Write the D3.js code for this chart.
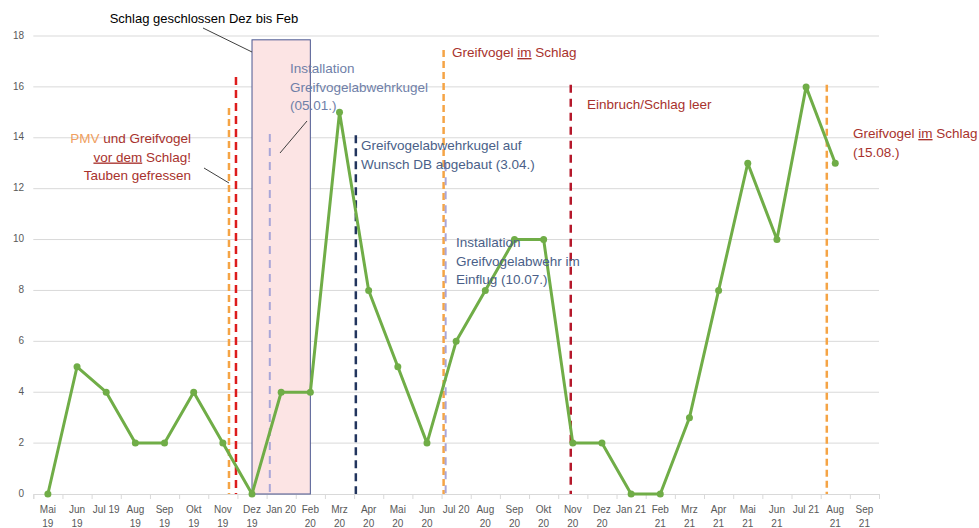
<!DOCTYPE html>
<html>
<head>
<meta charset="utf-8">
<script src="https://cdn.jsdelivr.net/npm/d3@7"></script>
<style>
  body { margin: 0; background: #fff; }
  svg { display: block; font-family: "Liberation Sans", Arial, sans-serif; }
  .grid line { stroke: #d9d9d9; stroke-width: 1; }
  .note { font-size: 13.5px; }
  .red { fill: #a8322d; }
  .orange { fill: #f0a060; }
  .blue1 { fill: #6f7fa8; }
  .blue2 { fill: #4a5f88; }
</style>
</head>
<body>
<script>
// Months on the x axis
let months = ["Mai 19","Jun 19","Jul 19","Aug 19","Sep 19","Okt 19","Nov 19","Dez 19",
  "Jan 20","Feb 20","Mrz 20","Apr 20","Mai 20","Jun 20","Jul 20","Aug 20","Sep 20","Okt 20",
  "Nov 20","Dez 20","Jan 21","Feb 21","Mrz 21","Apr 21","Mai 21","Jun 21","Jul 21","Aug 21","Sep 21"];
// labels Excel kept on one line
let oneLine = ["Jul 19","Jan 20","Jul 20","Jan 21","Jul 21"];

// counts per month (Sep 21 has no value)
let values = [0,5,4,2,2,4,2,0,4,4,15,8,5,2,6,8,10,10,2,2,0,0,3,8,13,10,16,13,null];

let yTicks = [0,2,4,6,8,10,12,14,16,18];

// event markers: position in months from start of Mai 19, top of the line (y value)
let eventAt  = [6.71, 6.95, 8.11, 11.06, 14.07, 14.14, 18.43, 27.21];
let eventTop = [15.17, 16.39, 14.15, 14.1, 17.45, 13.0, 16.08, 16.08];
let eventKind = ["orange","red","lilac","navy","orange","lilac","darkred","orange"];

// closed period Dez 19 .. Feb 20
let closedFrom = "Dez 19", closedTo = "Feb 20", closedTop = 17.85;

let w = 979, h = 528;
let padL = 33.3, padR = 879, padT = 36, padB = 494;

let lineStyle = {
  orange:  {c: "#f5a445", w: 2.5, d: "7,4"},
  red:     {c: "#dd1c1c", w: 2.5, d: "8,5"},
  lilac:   {c: "#a9a6d8", w: 2,   d: "8,6"},
  navy:    {c: "#22355e", w: 2.5, d: "8,5"},
  darkred: {c: "#b5182b", w: 2.5, d: "8,6"}
};

let svg = d3.select("body").append("svg")
  .attr("width", w).attr("height", h);

let xBand = d3.scaleBand().domain(months).range([padL, padR]);
let xIdx = d3.scaleLinear().domain([0, months.length]).range([padL, padR]);
let yScale = d3.scaleLinear().domain([0, 18]).range([padB, padT]);
let cx = m => xBand(m) + xBand.bandwidth() / 2;

// grid
svg.append("g").attr("class", "grid")
  .selectAll("line").data(yTicks.slice(1)).join("line")
  .attr("x1", padL).attr("x2", padR)
  .attr("y1", d => yScale(d)).attr("y2", d => yScale(d));

// y labels
svg.append("g").selectAll("text").data(yTicks).join("text")
  .attr("x", 24).attr("y", d => yScale(d))
  .attr("text-anchor", "end").attr("dominant-baseline", "middle")
  .attr("font-size", 10).attr("fill", "#595959")
  .text(d => d);

// x axis with ticks between categories
let xAxis = d3.axisBottom(xIdx)
  .tickValues(d3.range(0, months.length + 1))
  .tickSize(5)
  .tickFormat("");
let gx = svg.append("g")
  .attr("transform", "translate(0," + padB + ")")
  .call(xAxis);
gx.select(".domain").attr("stroke", "#d9d9d9");
gx.selectAll(".tick line").attr("stroke", "#d9d9d9");

let lbl = svg.append("g").selectAll("text").data(months).join("text")
  .attr("x", d => cx(d)).attr("y", 513)
  .attr("text-anchor", "middle").attr("font-size", 10).attr("fill", "#595959");
lbl.each(function(d) {
  let parts = oneLine.includes(d) ? [d] : d.split(" ");
  d3.select(this).selectAll("tspan").data(parts).join("tspan")
    .attr("x", cx(d)).attr("dy", (p, i) => i ? 14 : 0)
    .text(p => p);
});

// closed period box
svg.append("rect")
  .attr("x", cx(closedFrom)).attr("y", yScale(closedTop))
  .attr("width", cx(closedTo) - cx(closedFrom))
  .attr("height", padB - yScale(closedTop))
  .attr("fill", "#fce4e4").attr("stroke", "#4a5690").attr("stroke-width", 1);

// event lines
svg.append("g").selectAll("line").data(eventAt).join("line")
  .attr("x1", d => xIdx(d)).attr("x2", d => xIdx(d))
  .attr("y1", (d, i) => yScale(eventTop[i])).attr("y2", padB)
  .attr("stroke", (d, i) => lineStyle[eventKind[i]].c)
  .attr("stroke-width", (d, i) => lineStyle[eventKind[i]].w)
  .attr("stroke-dasharray", (d, i) => lineStyle[eventKind[i]].d);

// data line
let line = d3.line()
  .defined(d => d != null)
  .x((d, i) => cx(months[i]))
  .y(d => yScale(d));

svg.append("path").datum(values)
  .attr("fill", "none").attr("stroke", "#70ad47")
  .attr("stroke-width", 3).attr("stroke-linejoin", "round")
  .attr("d", line);

svg.append("g").selectAll("circle")
  .data(values.map((v, i) => ({v, m: months[i]})).filter(d => d.v != null))
  .join("circle")
  .attr("cx", d => cx(d.m)).attr("cy", d => yScale(d.v))
  .attr("r", 3.5).attr("fill", "#70ad47");

// annotations
function note(x, y, lines, anchor) {
  let t = svg.append("text").attr("class", "note")
    .attr("x", x).attr("y", y).attr("text-anchor", anchor || "start");
  lines.forEach((ln, i) => {
    ln.forEach((seg, j) => {
      let s = t.append("tspan").attr("class", seg.c).text(seg.t);
      if (j === 0) s.attr("x", x).attr("dy", i ? 18.5 : 0);
      if (seg.u) s.attr("text-decoration", "underline");
    });
  });
  return t;
}
function leader(x1, y1, x2, y2) {
  svg.append("line").attr("x1", x1).attr("y1", y1).attr("x2", x2).attr("y2", y2)
    .attr("stroke", "#404040").attr("stroke-width", 1);
}

svg.append("text").attr("x", 204).attr("y", 23).attr("text-anchor", "middle")
  .attr("font-size", 13).attr("fill", "#000")
  .text("Schlag geschlossen Dez bis Feb");
leader(203, 28, cx(closedFrom), 52);

note(191, 143, [
  [{t: "PMV ", c: "orange"}, {t: "und Greifvogel", c: "red"}],
  [{t: "vor dem", c: "red", u: true}, {t: " Schlag!", c: "red"}],
  [{t: "Tauben gefressen", c: "red"}]
], "end");
leader(204, 168, 229, 183);

note(290, 73, [
  [{t: "Installation", c: "blue1"}],
  [{t: "Greifvogelabwehrkugel", c: "blue1"}],
  [{t: "(05.01.)", c: "blue1"}]
]);
leader(280, 153, 307, 121);

note(361, 150, [
  [{t: "Greifvogelabwehrkugel auf", c: "blue2"}],
  [{t: "Wunsch DB abgebaut (3.04.)", c: "blue2"}]
]);

note(452, 57, [
  [{t: "Greifvogel ", c: "red"}, {t: "im", c: "red", u: true}, {t: " Schlag", c: "red"}]
]);

note(456, 247, [
  [{t: "Installation", c: "blue2"}],
  [{t: "Greifvogelabwehr im", c: "blue2"}],
  [{t: "Einflug (10.07.)", c: "blue2"}]
]);

note(587, 109, [
  [{t: "Einbruch/Schlag leer", c: "red"}]
]);

note(853, 138, [
  [{t: "Greifvogel ", c: "red"}, {t: "im", c: "red", u: true}, {t: " Schlag", c: "red"}],
  [{t: "(15.08.)", c: "red"}]
]);
</script>
</body>
</html>
